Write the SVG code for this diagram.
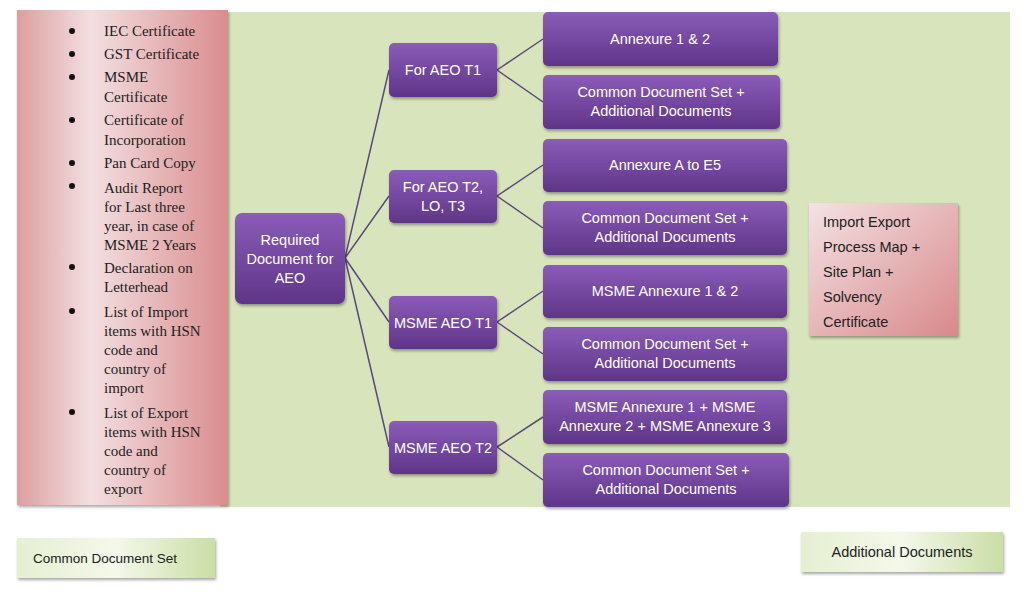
<svg xmlns="http://www.w3.org/2000/svg" width="1024" height="596" viewBox="0 0 1024 596">
<defs>
<linearGradient id="pur" x1="0" y1="0" x2="0" y2="1"><stop offset="0" stop-color="#8a5cb8"/><stop offset="1" stop-color="#5f3588"/></linearGradient>
<linearGradient id="pink" x1="0" y1="0" x2="1" y2="0"><stop offset="0" stop-color="#dc9ea0"/><stop offset="0.35" stop-color="#f3dfe0"/><stop offset="1" stop-color="#d98c8e"/></linearGradient>
<linearGradient id="pink2" x1="0" y1="0" x2="1" y2="1"><stop offset="0" stop-color="#f4e2e3"/><stop offset="1" stop-color="#d8898b"/></linearGradient>
<linearGradient id="grn" x1="0" y1="0" x2="1" y2="0"><stop offset="0" stop-color="#e6efd2"/><stop offset="0.5" stop-color="#f4f8ea"/><stop offset="1" stop-color="#cadea6"/></linearGradient>
<filter id="sh" x="-10%" y="-10%" width="130%" height="140%"><feDropShadow dx="1" dy="2" stdDeviation="1.5" flood-color="#000" flood-opacity="0.35"/></filter>
</defs>
<style>
.p{fill:url(#pur);filter:url(#sh)}
.t{font-family:"Liberation Sans",Arial,sans-serif;font-size:14.5px;fill:#fff;text-anchor:middle}
.l{font-family:"Liberation Serif","Times New Roman",serif;font-size:15px;fill:#222}
.k{font-family:"Liberation Sans",Arial,sans-serif;font-size:14.5px;fill:#222}
.c{stroke:#5a4a78;stroke-width:1.5;fill:none}
</style>
<rect width="1024" height="596" fill="#fff"/>
<rect x="220" y="12" width="790" height="495" fill="#d8e4bc"/>
<g id="docs-list">
<rect x="17" y="10" width="211" height="495" fill="url(#pink)" filter="url(#sh)"/>
<g class="l">
<circle cx="72" cy="31" r="3" fill="#111"/><text x="104" y="36">IEC Certificate</text>
<circle cx="72" cy="54" r="3" fill="#111"/><text x="104" y="59">GST Certificate</text>
<circle cx="72" cy="77" r="3" fill="#111"/><text x="104" y="82">MSME</text><text x="104" y="102">Certificate</text>
<circle cx="72" cy="120" r="3" fill="#111"/><text x="104" y="125">Certificate of</text><text x="104" y="145">Incorporation</text>
<circle cx="72" cy="163" r="3" fill="#111"/><text x="104" y="168">Pan Card Copy</text>
<circle cx="72" cy="186" r="3" fill="#111"/><text x="104" y="193">Audit Report</text><text x="104" y="212">for Last three</text><text x="104" y="231">year, in case of</text><text x="104" y="250">MSME 2 Years</text>
<circle cx="72" cy="267" r="3" fill="#111"/><text x="104" y="273">Declaration on</text><text x="104" y="292">Letterhead</text>
<circle cx="72" cy="311" r="3" fill="#111"/><text x="104" y="317">List of Import</text><text x="104" y="336">items with HSN</text><text x="104" y="355">code and</text><text x="104" y="374">country of</text><text x="104" y="393">import</text>
<circle cx="72" cy="412" r="3" fill="#111"/><text x="104" y="418">List of Export</text><text x="104" y="437">items with HSN</text><text x="104" y="456">code and</text><text x="104" y="475">country of</text><text x="104" y="494">export</text>
</g>
</g>
<g id="connectors" class="c">
<path d="M345 258L389 70M345 258L389 196M345 258L389 322M345 258L389 447"/>
<path d="M497 70L543 39M497 70L543 102M497 196L543 165M497 196L543 228M497 322L543 291M497 322L543 354M497 447L543 417M497 447L543 480"/>
</g>
<g id="root"><rect class="p" x="235" y="213" width="110" height="91" rx="7"/><text class="t" x="290" y="245">Required</text><text class="t" x="290" y="264">Document for</text><text class="t" x="290" y="283">AEO</text></g>
<g id="aeo-t1"><rect class="p" x="389" y="43" width="108" height="54" rx="5"/><text class="t" x="443" y="75">For AEO T1</text></g>
<g id="aeo-t2"><rect class="p" x="389" y="170" width="108" height="53" rx="5"/><text class="t" x="443" y="192">For AEO T2,</text><text class="t" x="443" y="211">LO, T3</text></g>
<g id="msme-t1"><rect class="p" x="389" y="296" width="108" height="53" rx="5"/><text class="t" x="443" y="328">MSME AEO T1</text></g>
<g id="msme-t2"><rect class="p" x="389" y="421" width="108" height="53" rx="5"/><text class="t" x="443" y="453">MSME AEO T2</text></g>
<g id="n1"><rect class="p" x="543" y="12" width="235" height="54" rx="5"/><text class="t" x="660" y="44">Annexure 1 &amp; 2</text></g>
<g id="n2"><rect class="p" x="543" y="75" width="237" height="54" rx="5"/><text class="t" x="661" y="97">Common Document Set +</text><text class="t" x="661" y="116">Additional Documents</text></g>
<g id="n3"><rect class="p" x="543" y="139" width="244" height="53" rx="5"/><text class="t" x="665" y="170">Annexure A  to E5</text></g>
<g id="n4"><rect class="p" x="543" y="201" width="244" height="54" rx="5"/><text class="t" x="665" y="223">Common Document Set  +</text><text class="t" x="665" y="242">Additional Documents</text></g>
<g id="n5"><rect class="p" x="543" y="265" width="244" height="53" rx="5"/><text class="t" x="665" y="296">MSME Annexure 1 &amp; 2</text></g>
<g id="n6"><rect class="p" x="543" y="327" width="244" height="54" rx="5"/><text class="t" x="665" y="349">Common Document Set  +</text><text class="t" x="665" y="368">Additional Documents</text></g>
<g id="n7"><rect class="p" x="543" y="390" width="244" height="54" rx="5"/><text class="t" x="665" y="412">MSME Annexure 1 + MSME</text><text class="t" x="665" y="431">Annexure 2 + MSME Annexure 3</text></g>
<g id="n8"><rect class="p" x="543" y="453" width="246" height="54" rx="5"/><text class="t" x="666" y="475">Common Document Set  +</text><text class="t" x="666" y="494">Additional Documents</text></g>
<g id="import-export"><rect x="809" y="203" width="149" height="133" fill="url(#pink2)" filter="url(#sh)"/>
<text class="k" x="823" y="227">Import Export</text><text class="k" x="823" y="252">Process Map +</text><text class="k" x="823" y="277">Site Plan +</text><text class="k" x="823" y="302">Solvency</text><text class="k" x="823" y="327">Certificate</text></g>
<g id="legend-common"><rect x="17" y="538" width="198" height="40" fill="url(#grn)" filter="url(#sh)"/><text class="k" x="33" y="563" style="font-size:13.5px">Common Document Set</text></g>
<g id="legend-additional"><rect x="801" y="532" width="202" height="40" fill="url(#grn)" filter="url(#sh)"/><text class="k" x="902" y="557" text-anchor="middle">Additional Documents</text></g>
</svg>
